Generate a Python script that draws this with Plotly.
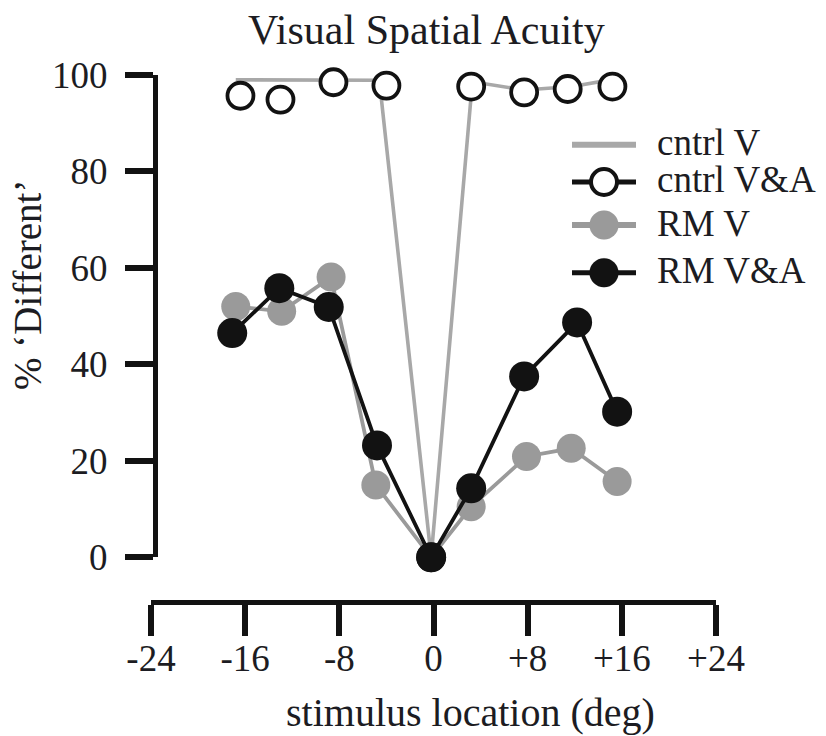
import plotly.graph_objects as go

W, H = 826, 736

# ---- data ----
tick_vals_x = [-24, -16, -8, 0, 8, 16, 24]
tick_text_x = ["-24", "-16", "-8", "0", "+8", "+16", "+24"]
tick_vals_y = [0, 20, 40, 60, 80, 100]

x_cntrl_v = [-16.8, -13.0, -8.7, -4.6, -0.2, 3.3, 7.7, 11.8, 15.5]
cntrl_v = [99.0, 99.0, 98.9, 98.9, 0.0, 98.6, 96.9, 97.6, 99.2]

x_cntrl_va = [-16.4, -13.0, -8.5, -4.0, -0.2, 3.2, 7.7, 11.4, 15.2]
cntrl_va = [95.7, 94.9, 98.5, 97.8, 0.0, 97.6, 96.4, 97.1, 97.6]

x_rm_v = [-16.8, -12.9, -8.7, -4.9, -0.2, 3.2, 7.9, 11.7, 15.6]
rm_v = [52.0, 51.0, 58.1, 15.0, 0.0, 10.5, 20.9, 22.6, 15.7]

x_rm_va = [-17.1, -13.1, -8.9, -4.8, -0.2, 3.2, 7.7, 12.2, 15.6]
rm_va = [46.5, 55.8, 51.9, 23.2, 0.0, 14.3, 37.5, 48.7, 30.2]

legend_names = ["cntrl V", "cntrl V&A", "RM V", "RM V&A"]

GREY_LINE = "#a8a8a8"
GREY = "#9a9a9a"
BLACK = "#121212"
TXT = "#1c1c22"
FONT = "Liberation Serif"


def px(x):
    return x / W


def py(y):
    return 1 - y / H


fig = go.Figure()

fig.add_trace(go.Scatter(x=x_cntrl_v, y=cntrl_v, mode="lines",
                         line=dict(color=GREY_LINE, width=3.6),
                         cliponaxis=False, showlegend=False, name=legend_names[0]))
fig.add_trace(go.Scatter(x=x_rm_v, y=rm_v, mode="lines+markers",
                         line=dict(color=GREY, width=3.8),
                         marker=dict(color=GREY, size=29, line=dict(width=0)),
                         cliponaxis=False, showlegend=False, name=legend_names[2]))
fig.add_trace(go.Scatter(x=x_cntrl_va, y=cntrl_va, mode="markers",
                         marker=dict(color="white", size=26, line=dict(width=3.8, color=BLACK)),
                         cliponaxis=False, showlegend=False, name=legend_names[1]))
fig.add_trace(go.Scatter(x=x_rm_va, y=rm_va, mode="lines+markers",
                         line=dict(color=BLACK, width=3.8),
                         marker=dict(color=BLACK, size=30, line=dict(width=0)),
                         cliponaxis=False, showlegend=False, name=legend_names[3]))

# ---- hand-built legend ----
rows = [144.7, 182.0, 225.0, 272.7]
styles = [
    dict(lc=GREY_LINE, lw=6, circle=None),
    dict(lc=BLACK, lw=5, circle=("white", BLACK, 4)),
    dict(lc=GREY, lw=6, circle=(GREY, GREY, 0)),
    dict(lc=BLACK, lw=5, circle=(BLACK, BLACK, 0)),
]
shapes = []
annotations = []
for ry, st, name in zip(rows, styles, legend_names):
    shapes.append(dict(type="line", xref="paper", yref="paper",
                       x0=px(572), x1=px(636), y0=py(ry), y1=py(ry),
                       line=dict(color=st["lc"], width=st["lw"])))
    if st["circle"]:
        fill, edge, ew = st["circle"]
        r = 14.5 if ew == 0 else 13
        shapes.append(dict(type="circle", xref="paper", yref="paper",
                           x0=px(604 - r), x1=px(604 + r), y0=py(ry + r), y1=py(ry - r),
                           fillcolor=fill,
                           line=dict(color=edge, width=ew if ew else 0.1)))
    annotations.append(dict(text=name, xref="paper", yref="paper",
                            x=px(655), y=py(ry - 2), xanchor="left", yanchor="middle",
                            showarrow=False, font=dict(family=FONT, size=37, color=TXT)))

# titles
annotations.append(dict(text="Visual Spatial Acuity", xref="paper", yref="paper",
                        x=px(427), y=py(30), xanchor="center", yanchor="middle",
                        showarrow=False, font=dict(family=FONT, size=42, color=TXT)))
annotations.append(dict(text="stimulus location (deg)", xref="paper", yref="paper",
                        x=px(471), y=py(712), xanchor="center", yanchor="middle",
                        showarrow=False, font=dict(family=FONT, size=40, color=TXT)))
annotations.append(dict(text="% \u2018Different\u2019", xref="paper", yref="paper",
                        x=px(27), y=py(285), xanchor="center", yanchor="middle",
                        textangle=-90,
                        showarrow=False, font=dict(family=FONT, size=39, color=TXT)))

fig.update_layout(
    width=W, height=H,
    margin=dict(l=0, r=0, t=0, b=0, autoexpand=False),
    paper_bgcolor="white", plot_bgcolor="white",
    font=dict(family=FONT, color=TXT),
    showlegend=False,
    shapes=shapes,
    annotations=annotations,
    xaxis=dict(range=[-24, 24], domain=[px(151), px(716)],
               anchor="free", position=py(602), automargin=False,
               tickvals=tick_vals_x, ticktext=tick_text_x,
               showline=True, linewidth=5, linecolor=BLACK,
               ticks="outside", ticklen=31, tickwidth=5.5, tickcolor=BLACK,
               ticklabelstandoff=-9,
               showgrid=False, zeroline=False,
               tickfont=dict(family=FONT, size=37, color=TXT)),
    yaxis=dict(range=[0, 100], domain=[py(557.3), py(75)],
               anchor="free", position=px(155), automargin=False,
               tickvals=tick_vals_y,
               showline=True, linewidth=5, linecolor=BLACK,
               ticks="outside", ticklen=28, tickwidth=5.5, tickcolor=BLACK,
               ticklabelstandoff=10,
               showgrid=False, zeroline=False,
               tickfont=dict(family=FONT, size=37, color=TXT)),
)

fig.write_html("out.html")
